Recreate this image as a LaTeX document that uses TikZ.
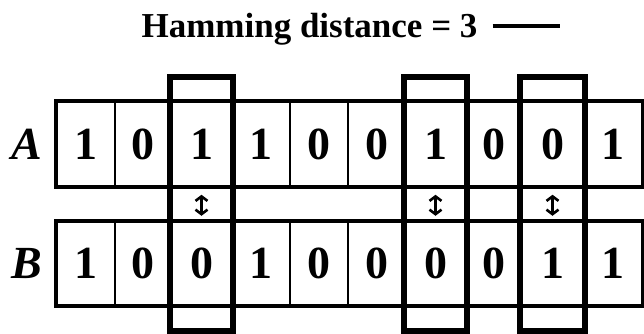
\documentclass[tikz,border=0pt]{standalone}
\usepackage{fontspec}
\setmainfont{Liberation Serif}
\usetikzlibrary{positioning,arrows.meta,calc}

\begin{document}
\begin{tikzpicture}[x=1pt,y=-1pt,
    cell/.style={draw,line width=2pt,inner sep=0pt,minimum height=83.5pt,font=\fontsize{46}{46}\selectfont\bfseries},
    rowlabel/.style={inner sep=0pt,font=\fontsize{46}{46}\selectfont\bfseries\itshape},
    rowframe/.style={line width=4pt},
    diffbox/.style={line width=6pt},
    flip/.style={{Straight Barb[length=4.5pt,width=12pt]}-{Straight Barb[length=4.5pt,width=12pt]},line width=2.6pt}]
    \useasboundingbox (0,0) rectangle (644,333);
    % title and legend
    \node[inner sep=0pt,anchor=base,font=\fontsize{35}{35}\selectfont\bfseries] (title) at (309.5,37) {Hamming distance = 3};
    \coordinate (legend) at ($(title.base east)+(15,-11)$);
    \draw[line width=4pt] (legend) -- ++(67,0);
    % the two words
    \foreach \i/\l/\r/\da/\db in {1/57/115/1/1,2/115/171/0/0,3/171/232/1/0,4/232/290/1/1,5/290/348/0/0,
        6/348/405/0/0,7/405/466/1/0,8/466/521/0/0,9/521/584/0/1,10/584/642/1/1}{
      \node[cell,minimum width={\r-\l}] (a\i) at ({(\l+\r)/2},144) {\da};
      \node[cell,minimum width={\r-\l}] (b\i) at ({(\l+\r)/2},263.5) {\db};
    }
    \draw[rowframe] (a1.north west) rectangle (a10.south east);
    \draw[rowframe] (b1.north west) rectangle (b10.south east);
    \node[rowlabel,left=14pt of a1] (labA) {A};
    \node[rowlabel,left=14pt of b1] (labB) {B};
    % differing positions
    \foreach \i in {3,7,9}{
      \draw[diffbox] ($(a\i.north west)+(0,-24.5)$) rectangle ($(b\i.south east)+(0,25)$);
      \draw[flip,shorten <=8pt,shorten >=5pt] (a\i) -- (b\i);
    }
\end{tikzpicture}
\end{document}
